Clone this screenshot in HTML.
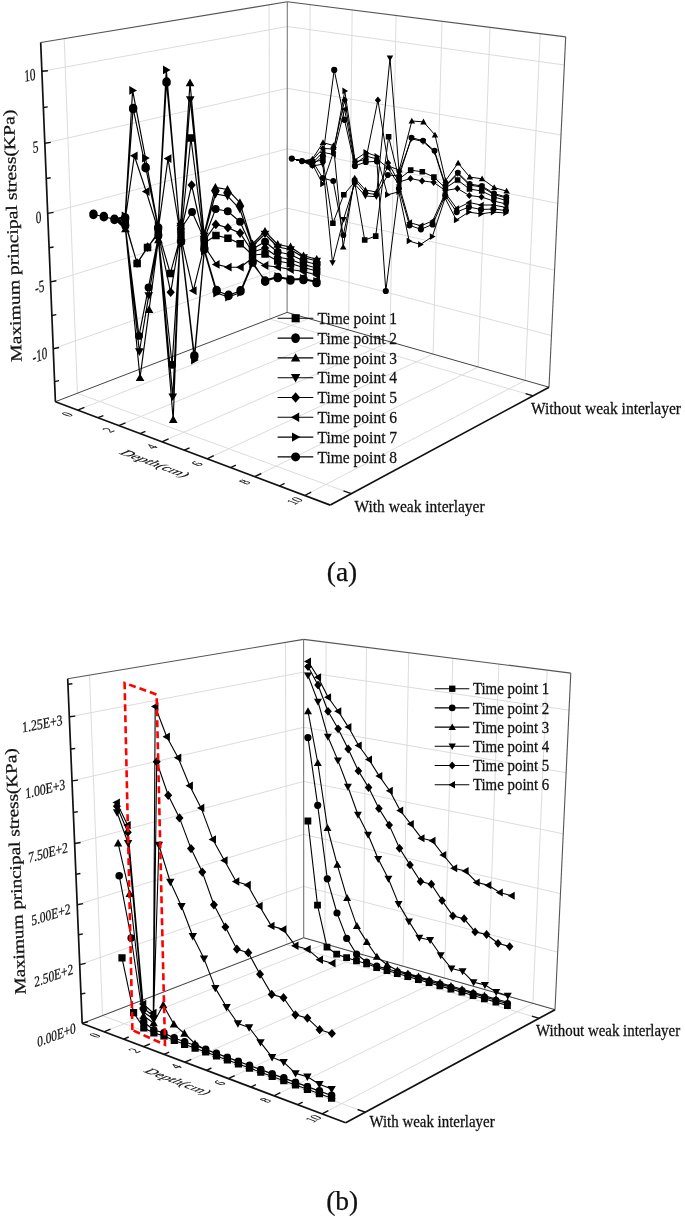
<!DOCTYPE html>
<html><head><meta charset="utf-8"><style>
html,body{margin:0;padding:0;background:#fff;}
svg{display:block;filter:blur(0.4px);}
text{font-family:"Liberation Serif",serif;fill:#111;stroke:#111;stroke-width:0.25px;}
</style></head><body>
<svg width="685" height="1218" viewBox="0 0 685 1218">
<rect width="685" height="1218" fill="#fff"/>
<line x1="41.9" y1="71.3" x2="287.3" y2="26.5" stroke="#d8d8d8" stroke-width="0.9" />
<line x1="287.3" y1="26.5" x2="564.4" y2="65.0" stroke="#d8d8d8" stroke-width="0.9" />
<line x1="44.8" y1="143.2" x2="287.2" y2="88.3" stroke="#d8d8d8" stroke-width="0.9" />
<line x1="287.2" y1="88.3" x2="561.0" y2="135.0" stroke="#d8d8d8" stroke-width="0.9" />
<line x1="47.7" y1="213.4" x2="287.2" y2="148.8" stroke="#d8d8d8" stroke-width="0.9" />
<line x1="287.2" y1="148.8" x2="557.8" y2="203.4" stroke="#d8d8d8" stroke-width="0.9" />
<line x1="50.5" y1="281.9" x2="287.1" y2="208.1" stroke="#d8d8d8" stroke-width="0.9" />
<line x1="287.1" y1="208.1" x2="554.6" y2="270.2" stroke="#d8d8d8" stroke-width="0.9" />
<line x1="53.3" y1="348.7" x2="287.1" y2="266.2" stroke="#d8d8d8" stroke-width="0.9" />
<line x1="287.1" y1="266.2" x2="551.5" y2="335.5" stroke="#d8d8d8" stroke-width="0.9" />
<line x1="77.4" y1="393.3" x2="64.2" y2="38.6" stroke="#d8d8d8" stroke-width="0.9" />
<line x1="77.4" y1="393.3" x2="351.4" y2="493.7" stroke="#d8d8d8" stroke-width="0.9" />
<line x1="269.9" y1="319.1" x2="269.1" y2="4.8" stroke="#d8d8d8" stroke-width="0.9" />
<line x1="269.9" y1="319.1" x2="533.1" y2="395.8" stroke="#d8d8d8" stroke-width="0.9" />
<line x1="308.7" y1="318.6" x2="310.1" y2="4.7" stroke="#d8d8d8" stroke-width="0.9" />
<line x1="77.7" y1="410.1" x2="308.7" y2="318.6" stroke="#d8d8d8" stroke-width="0.9" />
<line x1="348.5" y1="330.0" x2="352.2" y2="10.0" stroke="#d8d8d8" stroke-width="0.9" />
<line x1="118.8" y1="425.6" x2="348.5" y2="330.0" stroke="#d8d8d8" stroke-width="0.9" />
<line x1="389.9" y1="341.8" x2="396.1" y2="15.5" stroke="#d8d8d8" stroke-width="0.9" />
<line x1="161.9" y1="441.8" x2="389.9" y2="341.8" stroke="#d8d8d8" stroke-width="0.9" />
<line x1="433.1" y1="354.1" x2="442.0" y2="21.3" stroke="#d8d8d8" stroke-width="0.9" />
<line x1="207.1" y1="458.8" x2="433.1" y2="354.1" stroke="#d8d8d8" stroke-width="0.9" />
<line x1="478.1" y1="367.0" x2="490.0" y2="27.4" stroke="#d8d8d8" stroke-width="0.9" />
<line x1="254.7" y1="476.7" x2="478.1" y2="367.0" stroke="#d8d8d8" stroke-width="0.9" />
<line x1="525.2" y1="380.4" x2="540.2" y2="33.7" stroke="#d8d8d8" stroke-width="0.9" />
<line x1="304.7" y1="495.5" x2="525.2" y2="380.4" stroke="#d8d8d8" stroke-width="0.9" />
<line x1="40.7" y1="42.5" x2="287.3" y2="1.8" stroke="#555" stroke-width="1.1" />
<line x1="287.3" y1="1.8" x2="565.7" y2="36.9" stroke="#555" stroke-width="1.1" />
<line x1="287.1" y1="312.4" x2="287.3" y2="1.8" stroke="#777" stroke-width="1.1" />
<line x1="549.0" y1="387.2" x2="565.7" y2="36.9" stroke="#555" stroke-width="1.1" />
<line x1="55.4" y1="401.7" x2="287.1" y2="312.4" stroke="#444" stroke-width="1.0" />
<line x1="287.1" y1="312.4" x2="549.0" y2="387.2" stroke="#444" stroke-width="1.0" />
<line x1="55.4" y1="401.7" x2="40.7" y2="42.5" stroke="#111" stroke-width="1.7" />
<line x1="55.4" y1="401.7" x2="330.3" y2="505.1" stroke="#111" stroke-width="1.7" />
<line x1="330.3" y1="505.1" x2="549.0" y2="387.2" stroke="#111" stroke-width="1.7" />
<line x1="41.9" y1="71.3" x2="47.9" y2="70.7" stroke="#111" stroke-width="1.4" />
<line x1="44.8" y1="143.2" x2="50.8" y2="142.4" stroke="#111" stroke-width="1.4" />
<line x1="47.7" y1="213.4" x2="53.6" y2="212.4" stroke="#111" stroke-width="1.4" />
<line x1="50.5" y1="281.9" x2="56.4" y2="280.8" stroke="#111" stroke-width="1.4" />
<line x1="53.3" y1="348.7" x2="59.1" y2="347.5" stroke="#111" stroke-width="1.4" />
<line x1="43.4" y1="107.5" x2="47.8" y2="106.9" stroke="#111" stroke-width="1.4" />
<line x1="46.3" y1="178.5" x2="50.7" y2="177.8" stroke="#111" stroke-width="1.4" />
<line x1="49.1" y1="247.8" x2="53.6" y2="247.0" stroke="#111" stroke-width="1.4" />
<line x1="51.9" y1="315.5" x2="56.3" y2="314.6" stroke="#111" stroke-width="1.4" />
<line x1="54.6" y1="381.6" x2="59.0" y2="380.6" stroke="#111" stroke-width="1.4" />
<line x1="77.7" y1="410.1" x2="84.4" y2="407.4" stroke="#111" stroke-width="1.4" />
<line x1="118.8" y1="425.6" x2="125.5" y2="422.8" stroke="#111" stroke-width="1.4" />
<line x1="161.9" y1="441.8" x2="168.6" y2="438.9" stroke="#111" stroke-width="1.4" />
<line x1="207.1" y1="458.8" x2="213.8" y2="455.7" stroke="#111" stroke-width="1.4" />
<line x1="254.7" y1="476.7" x2="261.3" y2="473.5" stroke="#111" stroke-width="1.4" />
<line x1="304.7" y1="495.5" x2="311.2" y2="492.1" stroke="#111" stroke-width="1.4" />
<line x1="98.0" y1="417.7" x2="103.4" y2="415.6" stroke="#111" stroke-width="1.4" />
<line x1="140.1" y1="433.6" x2="145.4" y2="431.3" stroke="#111" stroke-width="1.4" />
<line x1="184.2" y1="450.2" x2="189.6" y2="447.8" stroke="#111" stroke-width="1.4" />
<line x1="230.6" y1="467.6" x2="235.9" y2="465.1" stroke="#111" stroke-width="1.4" />
<line x1="279.4" y1="486.0" x2="284.6" y2="483.3" stroke="#111" stroke-width="1.4" />
<line x1="351.4" y1="493.7" x2="343.5" y2="490.8" stroke="#111" stroke-width="1.4" />
<line x1="533.1" y1="395.8" x2="525.6" y2="393.6" stroke="#111" stroke-width="1.4" />
<line x1="69.3" y1="716.8" x2="303.6" y2="672.1" stroke="#d8d8d8" stroke-width="0.9" />
<line x1="303.6" y1="672.1" x2="569.1" y2="710.2" stroke="#d8d8d8" stroke-width="0.9" />
<line x1="72.0" y1="780.9" x2="303.6" y2="727.3" stroke="#d8d8d8" stroke-width="0.9" />
<line x1="303.6" y1="727.3" x2="566.2" y2="772.7" stroke="#d8d8d8" stroke-width="0.9" />
<line x1="74.7" y1="843.5" x2="303.7" y2="781.4" stroke="#d8d8d8" stroke-width="0.9" />
<line x1="303.7" y1="781.4" x2="563.3" y2="833.8" stroke="#d8d8d8" stroke-width="0.9" />
<line x1="77.2" y1="904.7" x2="303.7" y2="834.4" stroke="#d8d8d8" stroke-width="0.9" />
<line x1="303.7" y1="834.4" x2="560.5" y2="893.6" stroke="#d8d8d8" stroke-width="0.9" />
<line x1="79.7" y1="964.6" x2="303.7" y2="886.4" stroke="#d8d8d8" stroke-width="0.9" />
<line x1="303.7" y1="886.4" x2="557.7" y2="952.1" stroke="#d8d8d8" stroke-width="0.9" />
<line x1="82.2" y1="1023.1" x2="303.7" y2="937.5" stroke="#d8d8d8" stroke-width="0.9" />
<line x1="303.7" y1="937.5" x2="555.0" y2="1009.4" stroke="#d8d8d8" stroke-width="0.9" />
<line x1="102.5" y1="1015.7" x2="89.5" y2="675.1" stroke="#d8d8d8" stroke-width="0.9" />
<line x1="102.5" y1="1015.7" x2="365.2" y2="1112.2" stroke="#d8d8d8" stroke-width="0.9" />
<line x1="286.5" y1="944.5" x2="285.5" y2="642.5" stroke="#d8d8d8" stroke-width="0.9" />
<line x1="286.5" y1="944.5" x2="539.1" y2="1018.3" stroke="#d8d8d8" stroke-width="0.9" />
<line x1="324.9" y1="943.9" x2="326.1" y2="642.3" stroke="#d8d8d8" stroke-width="0.9" />
<line x1="104.0" y1="1031.8" x2="324.9" y2="943.9" stroke="#d8d8d8" stroke-width="0.9" />
<line x1="363.2" y1="954.9" x2="366.5" y2="647.4" stroke="#d8d8d8" stroke-width="0.9" />
<line x1="143.5" y1="1046.6" x2="363.2" y2="954.9" stroke="#d8d8d8" stroke-width="0.9" />
<line x1="403.0" y1="966.2" x2="408.7" y2="652.7" stroke="#d8d8d8" stroke-width="0.9" />
<line x1="184.9" y1="1062.2" x2="403.0" y2="966.2" stroke="#d8d8d8" stroke-width="0.9" />
<line x1="444.5" y1="978.1" x2="452.8" y2="658.2" stroke="#d8d8d8" stroke-width="0.9" />
<line x1="228.3" y1="1078.6" x2="444.5" y2="978.1" stroke="#d8d8d8" stroke-width="0.9" />
<line x1="487.8" y1="990.5" x2="498.9" y2="664.0" stroke="#d8d8d8" stroke-width="0.9" />
<line x1="274.0" y1="1095.8" x2="487.8" y2="990.5" stroke="#d8d8d8" stroke-width="0.9" />
<line x1="532.9" y1="1003.4" x2="547.2" y2="670.1" stroke="#d8d8d8" stroke-width="0.9" />
<line x1="322.1" y1="1113.9" x2="532.9" y2="1003.4" stroke="#d8d8d8" stroke-width="0.9" />
<line x1="67.7" y1="678.7" x2="303.6" y2="639.4" stroke="#555" stroke-width="1.1" />
<line x1="303.6" y1="639.4" x2="570.8" y2="673.1" stroke="#555" stroke-width="1.1" />
<line x1="303.7" y1="937.8" x2="303.6" y2="639.4" stroke="#777" stroke-width="1.1" />
<line x1="555.0" y1="1009.7" x2="570.8" y2="673.1" stroke="#555" stroke-width="1.1" />
<line x1="82.2" y1="1023.5" x2="303.7" y2="937.8" stroke="#444" stroke-width="1.0" />
<line x1="303.7" y1="937.8" x2="555.0" y2="1009.7" stroke="#444" stroke-width="1.0" />
<line x1="82.2" y1="1023.5" x2="67.7" y2="678.7" stroke="#111" stroke-width="1.7" />
<line x1="82.2" y1="1023.5" x2="345.7" y2="1122.8" stroke="#111" stroke-width="1.7" />
<line x1="345.7" y1="1122.8" x2="555.0" y2="1009.7" stroke="#111" stroke-width="1.7" />
<line x1="69.3" y1="716.8" x2="75.3" y2="716.1" stroke="#111" stroke-width="1.4" />
<line x1="72.0" y1="780.9" x2="78.0" y2="780.1" stroke="#111" stroke-width="1.4" />
<line x1="74.7" y1="843.5" x2="80.6" y2="842.5" stroke="#111" stroke-width="1.4" />
<line x1="77.2" y1="904.7" x2="83.1" y2="903.6" stroke="#111" stroke-width="1.4" />
<line x1="79.7" y1="964.6" x2="85.6" y2="963.4" stroke="#111" stroke-width="1.4" />
<line x1="82.2" y1="1023.1" x2="88.0" y2="1021.8" stroke="#111" stroke-width="1.4" />
<line x1="68.0" y1="684.2" x2="72.4" y2="683.8" stroke="#111" stroke-width="1.4" />
<line x1="70.7" y1="749.0" x2="75.2" y2="748.5" stroke="#111" stroke-width="1.4" />
<line x1="73.3" y1="812.4" x2="77.8" y2="811.7" stroke="#111" stroke-width="1.4" />
<line x1="75.9" y1="874.3" x2="80.4" y2="873.5" stroke="#111" stroke-width="1.4" />
<line x1="78.5" y1="934.8" x2="82.9" y2="933.9" stroke="#111" stroke-width="1.4" />
<line x1="81.0" y1="994.0" x2="85.4" y2="993.1" stroke="#111" stroke-width="1.4" />
<line x1="104.0" y1="1031.8" x2="110.5" y2="1029.2" stroke="#111" stroke-width="1.4" />
<line x1="143.5" y1="1046.6" x2="149.9" y2="1044.0" stroke="#111" stroke-width="1.4" />
<line x1="184.9" y1="1062.2" x2="191.3" y2="1059.4" stroke="#111" stroke-width="1.4" />
<line x1="228.3" y1="1078.6" x2="234.7" y2="1075.6" stroke="#111" stroke-width="1.4" />
<line x1="274.0" y1="1095.8" x2="280.3" y2="1092.7" stroke="#111" stroke-width="1.4" />
<line x1="322.1" y1="1113.9" x2="328.3" y2="1110.6" stroke="#111" stroke-width="1.4" />
<line x1="123.5" y1="1039.1" x2="128.7" y2="1037.0" stroke="#111" stroke-width="1.4" />
<line x1="164.0" y1="1054.3" x2="169.1" y2="1052.1" stroke="#111" stroke-width="1.4" />
<line x1="206.4" y1="1070.3" x2="211.4" y2="1068.0" stroke="#111" stroke-width="1.4" />
<line x1="250.9" y1="1087.1" x2="255.9" y2="1084.7" stroke="#111" stroke-width="1.4" />
<line x1="297.7" y1="1104.7" x2="302.7" y2="1102.2" stroke="#111" stroke-width="1.4" />
<line x1="365.2" y1="1112.2" x2="357.6" y2="1109.5" stroke="#111" stroke-width="1.4" />
<line x1="539.1" y1="1018.3" x2="531.9" y2="1016.2" stroke="#111" stroke-width="1.4" />
<text transform="matrix(-0.0383,-1.2295,0.9995,-0.0312,17.9,235.6)" font-size="16" text-anchor="middle" dy="0em" >Maximum principal stress(KPa)</text>
<text transform="matrix(-0.0486,-1.2010,0.9992,-0.0405,20.8,871.2)" font-size="16" text-anchor="middle" dy="0em" >Maximum principal stress(KPa)</text>
<text transform="matrix(0.6689,-0.1221,0.0410,0.9992,35.5,73.8)" font-size="17" text-anchor="end" dy="0.35em" >10</text>
<text transform="matrix(0.6632,-0.1502,0.0410,0.9992,38.5,146.0)" font-size="17" text-anchor="end" dy="0.35em" >5</text>
<text transform="matrix(0.6566,-0.1769,0.0410,0.9992,41.4,216.4)" font-size="17" text-anchor="end" dy="0.35em" >0</text>
<text transform="matrix(0.6492,-0.2023,0.0410,0.9992,44.3,285.1)" font-size="17" text-anchor="end" dy="0.35em" >-5</text>
<text transform="matrix(0.6413,-0.2262,0.0410,0.9992,47.1,352.2)" font-size="17" text-anchor="end" dy="0.35em" >-10</text>
<text transform="matrix(0.7858,-0.1499,0.0420,0.9991,62.5,719.6)" font-size="15" text-anchor="end" dy="0.35em" >1.25E+3</text>
<text transform="matrix(0.7794,-0.1804,0.0420,0.9991,65.2,784.0)" font-size="15" text-anchor="end" dy="0.35em" >1.00E+3</text>
<text transform="matrix(0.7721,-0.2095,0.0420,0.9991,67.9,846.8)" font-size="15" text-anchor="end" dy="0.35em" >7.50E+2</text>
<text transform="matrix(0.7640,-0.2372,0.0420,0.9991,70.5,908.3)" font-size="15" text-anchor="end" dy="0.35em" >5.00E+2</text>
<text transform="matrix(0.7553,-0.2636,0.0420,0.9991,73.1,968.4)" font-size="15" text-anchor="end" dy="0.35em" >2.50E+2</text>
<text transform="matrix(0.7462,-0.2885,0.0420,0.9991,75.7,1027.2)" font-size="15" text-anchor="end" dy="0.35em" >0.00E+0</text>
<text transform="matrix(0.6508,-0.2578,0.8424,0.3169,67.0,414.3)" font-size="15.5" text-anchor="middle" dy="0.35em" >0</text>
<text transform="matrix(0.6463,-0.2690,0.8424,0.3169,108.2,430.0)" font-size="15.5" text-anchor="middle" dy="0.35em" >2</text>
<text transform="matrix(0.6411,-0.2811,0.8424,0.3169,151.4,446.4)" font-size="15.5" text-anchor="middle" dy="0.35em" >4</text>
<text transform="matrix(0.6351,-0.2943,0.8424,0.3169,196.7,463.6)" font-size="15.5" text-anchor="middle" dy="0.35em" >6</text>
<text transform="matrix(0.6283,-0.3085,0.8424,0.3169,244.4,481.8)" font-size="15.5" text-anchor="middle" dy="0.35em" >8</text>
<text transform="matrix(0.6205,-0.3240,0.8424,0.3169,294.5,500.8)" font-size="15.5" text-anchor="middle" dy="0.35em" >10</text>
<text transform="matrix(0.6505,-0.2586,0.8422,0.3173,94.8,1035.4)" font-size="15.5" text-anchor="middle" dy="0.35em" >0</text>
<text transform="matrix(0.6459,-0.2698,0.8422,0.3173,134.3,1050.5)" font-size="15.5" text-anchor="middle" dy="0.35em" >2</text>
<text transform="matrix(0.6407,-0.2819,0.8422,0.3173,175.7,1066.2)" font-size="15.5" text-anchor="middle" dy="0.35em" >4</text>
<text transform="matrix(0.6348,-0.2951,0.8422,0.3173,219.3,1082.8)" font-size="15.5" text-anchor="middle" dy="0.35em" >6</text>
<text transform="matrix(0.6279,-0.3093,0.8422,0.3173,265.0,1100.2)" font-size="15.5" text-anchor="middle" dy="0.35em" >8</text>
<text transform="matrix(0.6201,-0.3248,0.8422,0.3173,313.2,1118.5)" font-size="15.5" text-anchor="middle" dy="0.35em" >10</text>
<text transform="matrix(0.9079,0.3416,-0.8397,0.3238,155.5,463.5)" font-size="16.5" text-anchor="middle" dy="0.35em" >Depth(cm)</text>
<text transform="matrix(0.9077,0.3420,-0.8394,0.3247,178.5,1081.5)" font-size="15.8" text-anchor="middle" dy="0.35em" >Depth(cm)</text>
<text transform="translate(531.0,414.1) scale(1,1.08)" font-size="15.5" text-anchor="start" >Without weak interlayer</text>
<text transform="translate(354.5,511.5) scale(1,1.08)" font-size="15.5" text-anchor="start" >With weak interlayer</text>
<text transform="translate(536.0,1035.5) scale(1,1.08)" font-size="14.9" text-anchor="start" >Without weak interlayer</text>
<text transform="translate(369.5,1126.8) scale(1,1.08)" font-size="14.9" text-anchor="start" >With weak interlayer</text>
<text x="342" y="581.3" font-size="27.5" text-anchor="middle">(a)</text>
<text x="342.2" y="1209.9" font-size="27.5" text-anchor="middle">(b)</text>
<path d="M291.8,158.6 L302.0,161.1 L312.4,162.0 L322.8,160.0 L332.9,223.3 L343.7,194.8 L354.7,182.0 L364.7,240.0 L375.7,236.1 L388.6,136.7 L399.1,179.0 L410.7,170.1 L422.3,171.8 L433.9,177.1 L445.4,188.0 L457.6,180.0 L469.5,189.0 L481.7,191.0 L493.9,197.0 L506.3,200.5 M291.8,158.6 L302.0,161.1 L312.4,161.0 L322.7,178.0 L333.2,181.0 L343.3,235.1 L354.7,180.0 L365.4,193.0 L376.4,194.5 L387.9,175.0 L399.2,176.0 L411.4,137.7 L423.0,140.6 L434.5,150.8 L445.5,185.5 L457.8,172.7 L469.6,184.0 L481.8,186.0 L494.0,193.5 L506.4,197.0 M291.8,158.6 L302.0,161.1 L312.4,159.0 L323.0,142.6 L333.5,145.5 L343.2,247.0 L354.7,178.0 L365.4,190.0 L376.4,192.0 L388.0,166.0 L399.3,170.0 L411.8,121.0 L423.5,121.9 L435.0,135.0 L445.6,180.6 L458.1,163.1 L469.8,177.1 L482.1,178.8 L494.2,187.6 L506.6,191.1 M291.8,158.6 L302.0,161.1 L312.4,166.0 L322.8,164.2 L332.5,262.7 L343.5,219.4 L354.6,184.0 L365.4,196.0 L376.4,196.7 L390.0,57.9 L399.2,173.0 L411.4,138.7 L423.0,141.6 L434.5,151.8 L445.4,186.5 L457.8,173.7 L469.6,185.0 L481.8,187.0 L493.9,194.5 L506.4,198.0 M291.8,158.6 L302.0,161.1 L312.4,160.0 L322.9,148.5 L333.5,149.0 L344.7,100.1 L354.9,162.0 L365.9,159.3 L377.9,100.2 L388.1,163.0 L399.0,182.0 L410.5,178.5 L422.1,180.9 L433.7,182.3 L445.3,190.5 L457.4,188.5 L469.3,195.5 L481.5,197.0 L493.7,201.0 L506.1,204.0 M291.8,158.6 L302.0,161.1 L312.4,163.0 L322.9,152.4 L333.5,154.4 L344.6,109.3 L354.9,164.0 L365.9,156.0 L377.0,159.0 L388.0,168.0 L399.0,185.0 L409.6,222.6 L421.0,225.8 L432.7,220.9 L445.3,193.0 L456.8,208.6 L469.0,202.5 L481.2,205.0 L493.6,205.0 L506.0,207.5 M291.8,158.6 L302.0,161.1 L312.4,164.0 L322.7,184.0 L333.5,152.0 L344.8,90.9 L354.9,160.0 L366.0,152.4 L377.0,156.4 L387.5,194.8 L398.8,191.8 L409.2,241.0 L420.5,244.5 L432.3,236.6 L445.1,198.1 L456.4,220.0 L468.7,212.1 L480.9,213.9 L493.3,212.1 L505.8,213.0 M291.8,158.6 L302.0,161.1 L312.4,165.0 L322.9,156.0 L334.2,69.9 L344.5,119.8 L354.9,166.0 L365.8,162.0 L376.9,161.3 L385.8,291.0 L398.9,188.5 L409.5,225.3 L420.9,229.3 L432.6,224.4 L445.2,195.5 L456.7,212.1 L468.9,207.0 L481.0,209.5 L493.4,209.0 L505.9,210.5" fill="none" stroke="#000" stroke-width="1.0" stroke-linejoin="round"/>
<path d="M309.6,159.2h5.6v5.6h-5.6zM320.1,157.2h5.6v5.6h-5.6zM330.1,220.5h5.6v5.6h-5.6zM341.0,192.0h5.6v5.6h-5.6zM351.9,179.2h5.6v5.6h-5.6zM361.9,237.2h5.6v5.6h-5.6zM372.9,233.3h5.6v5.6h-5.6zM385.8,133.9h5.6v5.6h-5.6zM396.3,176.2h5.6v5.6h-5.6zM407.9,167.3h5.6v5.6h-5.6zM419.5,169.0h5.6v5.6h-5.6zM431.1,174.3h5.6v5.6h-5.6zM442.6,185.2h5.6v5.6h-5.6zM454.8,177.2h5.6v5.6h-5.6zM466.7,186.2h5.6v5.6h-5.6zM478.9,188.2h5.6v5.6h-5.6zM491.1,194.2h5.6v5.6h-5.6zM503.5,197.7h5.6v5.6h-5.6zM309.4,161.0a2.9,2.9 0 1,1 5.9,0a2.9,2.9 0 1,1 -5.9,0zM319.8,178.0a2.9,2.9 0 1,1 5.9,0a2.9,2.9 0 1,1 -5.9,0zM330.3,181.0a2.9,2.9 0 1,1 5.9,0a2.9,2.9 0 1,1 -5.9,0zM340.4,235.1a2.9,2.9 0 1,1 5.9,0a2.9,2.9 0 1,1 -5.9,0zM351.7,180.0a2.9,2.9 0 1,1 5.9,0a2.9,2.9 0 1,1 -5.9,0zM362.5,193.0a2.9,2.9 0 1,1 5.9,0a2.9,2.9 0 1,1 -5.9,0zM373.4,194.5a2.9,2.9 0 1,1 5.9,0a2.9,2.9 0 1,1 -5.9,0zM384.9,175.0a2.9,2.9 0 1,1 5.9,0a2.9,2.9 0 1,1 -5.9,0zM396.2,176.0a2.9,2.9 0 1,1 5.9,0a2.9,2.9 0 1,1 -5.9,0zM408.5,137.7a2.9,2.9 0 1,1 5.9,0a2.9,2.9 0 1,1 -5.9,0zM420.1,140.6a2.9,2.9 0 1,1 5.9,0a2.9,2.9 0 1,1 -5.9,0zM431.6,150.8a2.9,2.9 0 1,1 5.9,0a2.9,2.9 0 1,1 -5.9,0zM442.5,185.5a2.9,2.9 0 1,1 5.9,0a2.9,2.9 0 1,1 -5.9,0zM454.9,172.7a2.9,2.9 0 1,1 5.9,0a2.9,2.9 0 1,1 -5.9,0zM466.7,184.0a2.9,2.9 0 1,1 5.9,0a2.9,2.9 0 1,1 -5.9,0zM478.9,186.0a2.9,2.9 0 1,1 5.9,0a2.9,2.9 0 1,1 -5.9,0zM491.0,193.5a2.9,2.9 0 1,1 5.9,0a2.9,2.9 0 1,1 -5.9,0zM503.5,197.0a2.9,2.9 0 1,1 5.9,0a2.9,2.9 0 1,1 -5.9,0zM312.4,155.7L315.6,161.5L309.1,161.5zM323.0,139.3L326.2,145.1L319.7,145.1zM333.5,142.2L336.8,148.0L330.3,148.0zM343.2,243.7L346.5,249.5L339.9,249.5zM354.7,174.7L358.0,180.5L351.5,180.5zM365.4,186.7L368.7,192.5L362.2,192.5zM376.4,188.7L379.7,194.5L373.2,194.5zM388.0,162.7L391.3,168.5L384.8,168.5zM399.3,166.7L402.5,172.5L396.0,172.5zM411.8,117.7L415.1,123.5L408.6,123.5zM423.5,118.6L426.7,124.4L420.2,124.4zM435.0,131.7L438.2,137.5L431.7,137.5zM445.6,177.3L448.9,183.1L442.4,183.1zM458.1,159.8L461.4,165.6L454.9,165.6zM469.8,173.8L473.1,179.6L466.6,179.6zM482.1,175.5L485.3,181.3L478.8,181.3zM494.2,184.3L497.5,190.1L490.9,190.1zM506.6,187.8L509.9,193.6L503.4,193.6zM309.1,163.5L315.6,163.5L312.4,169.3zM319.6,161.7L326.1,161.7L322.8,167.5zM329.3,260.2L335.8,260.2L332.5,266.0zM340.2,216.9L346.7,216.9L343.5,222.7zM351.4,181.5L357.9,181.5L354.6,187.3zM362.1,193.5L368.6,193.5L365.4,199.3zM373.1,194.2L379.6,194.2L376.4,200.0zM386.7,55.4L393.2,55.4L390.0,61.2zM396.0,170.5L402.5,170.5L399.2,176.3zM408.2,136.2L414.7,136.2L411.4,142.0zM419.7,139.1L426.3,139.1L423.0,144.9zM431.3,149.3L437.8,149.3L434.5,155.1zM442.2,184.0L448.7,184.0L445.4,189.8zM454.6,171.2L461.1,171.2L457.8,177.0zM466.3,182.5L472.8,182.5L469.6,188.3zM478.5,184.5L485.1,184.5L481.8,190.3zM490.7,192.0L497.2,192.0L493.9,197.8zM503.1,195.5L509.6,195.5L506.4,201.3zM312.4,156.4L315.5,160.0L312.4,163.6L309.3,160.0zM322.9,144.9L326.0,148.5L322.9,152.1L319.8,148.5zM333.5,145.4L336.6,149.0L333.5,152.6L330.4,149.0zM344.7,96.5L347.8,100.1L344.7,103.7L341.6,100.1zM354.9,158.4L358.0,162.0L354.9,165.6L351.8,162.0zM365.9,155.7L369.0,159.3L365.9,162.9L362.8,159.3zM377.9,96.6L381.0,100.2L377.9,103.8L374.8,100.2zM388.1,159.4L391.2,163.0L388.1,166.6L385.0,163.0zM399.0,178.4L402.1,182.0L399.0,185.6L395.9,182.0zM410.5,174.9L413.6,178.5L410.5,182.1L407.4,178.5zM422.1,177.3L425.2,180.9L422.1,184.5L419.0,180.9zM433.7,178.7L436.8,182.3L433.7,185.9L430.6,182.3zM445.3,186.9L448.4,190.5L445.3,194.1L442.2,190.5zM457.4,184.9L460.5,188.5L457.4,192.1L454.3,188.5zM469.3,191.9L472.4,195.5L469.3,199.1L466.2,195.5zM481.5,193.4L484.6,197.0L481.5,200.6L478.4,197.0zM493.7,197.4L496.8,201.0L493.7,204.6L490.6,201.0zM506.1,200.4L509.2,204.0L506.1,207.6L503.0,204.0zM309.1,163.0L314.8,159.7L314.8,166.3zM319.6,152.4L325.4,149.1L325.4,155.7zM330.2,154.4L335.9,151.1L335.9,157.7zM341.4,109.3L347.1,106.0L347.1,112.6zM351.6,164.0L357.4,160.7L357.4,167.3zM362.7,156.0L368.4,152.7L368.4,159.3zM373.7,159.0L379.4,155.7L379.4,162.3zM384.7,168.0L390.5,164.7L390.5,171.3zM395.7,185.0L401.5,181.7L401.5,188.3zM406.3,222.6L412.1,219.3L412.1,225.9zM417.7,225.8L423.5,222.5L423.5,229.1zM429.5,220.9L435.2,217.6L435.2,224.2zM442.0,193.0L447.7,189.7L447.7,196.3zM453.5,208.6L459.2,205.3L459.2,211.9zM465.8,202.5L471.5,199.2L471.5,205.8zM477.9,205.0L483.7,201.7L483.7,208.3zM490.3,205.0L496.0,201.7L496.0,208.3zM502.8,207.5L508.5,204.2L508.5,210.8zM309.9,160.7L315.6,164.0L309.9,167.3zM320.2,180.7L325.9,184.0L320.2,187.3zM331.0,148.7L336.7,152.0L331.0,155.3zM342.4,87.6L348.1,90.9L342.4,94.2zM352.5,156.7L358.2,160.0L352.5,163.3zM363.5,149.1L369.2,152.4L363.5,155.7zM374.5,153.1L380.3,156.4L374.5,159.7zM385.0,191.5L390.8,194.8L385.0,198.1zM396.4,188.5L402.1,191.8L396.4,195.1zM406.7,237.7L412.4,241.0L406.7,244.3zM418.1,241.2L423.8,244.5L418.1,247.8zM429.8,233.3L435.6,236.6L429.8,239.9zM442.6,194.8L448.4,198.1L442.6,201.4zM453.9,216.7L459.7,220.0L453.9,223.3zM466.2,208.8L472.0,212.1L466.2,215.4zM478.4,210.6L484.1,213.9L478.4,217.2zM490.8,208.8L496.6,212.1L490.8,215.4zM503.3,209.7L509.0,213.0L503.3,216.3zM288.7,158.6a3.1,3.1 0 1,1 6.2,0a3.1,3.1 0 1,1 -6.2,0zM298.9,161.1a3.1,3.1 0 1,1 6.2,0a3.1,3.1 0 1,1 -6.2,0zM309.3,165.0a3.1,3.1 0 1,1 6.2,0a3.1,3.1 0 1,1 -6.2,0zM319.8,156.0a3.1,3.1 0 1,1 6.2,0a3.1,3.1 0 1,1 -6.2,0zM331.1,69.9a3.1,3.1 0 1,1 6.2,0a3.1,3.1 0 1,1 -6.2,0zM341.4,119.8a3.1,3.1 0 1,1 6.2,0a3.1,3.1 0 1,1 -6.2,0zM351.8,166.0a3.1,3.1 0 1,1 6.2,0a3.1,3.1 0 1,1 -6.2,0zM362.7,162.0a3.1,3.1 0 1,1 6.2,0a3.1,3.1 0 1,1 -6.2,0zM373.8,161.3a3.1,3.1 0 1,1 6.2,0a3.1,3.1 0 1,1 -6.2,0zM382.7,291.0a3.1,3.1 0 1,1 6.2,0a3.1,3.1 0 1,1 -6.2,0zM395.8,188.5a3.1,3.1 0 1,1 6.2,0a3.1,3.1 0 1,1 -6.2,0zM406.4,225.3a3.1,3.1 0 1,1 6.2,0a3.1,3.1 0 1,1 -6.2,0zM417.8,229.3a3.1,3.1 0 1,1 6.2,0a3.1,3.1 0 1,1 -6.2,0zM429.5,224.4a3.1,3.1 0 1,1 6.2,0a3.1,3.1 0 1,1 -6.2,0zM442.1,195.5a3.1,3.1 0 1,1 6.2,0a3.1,3.1 0 1,1 -6.2,0zM453.6,212.1a3.1,3.1 0 1,1 6.2,0a3.1,3.1 0 1,1 -6.2,0zM465.8,207.0a3.1,3.1 0 1,1 6.2,0a3.1,3.1 0 1,1 -6.2,0zM477.9,209.5a3.1,3.1 0 1,1 6.2,0a3.1,3.1 0 1,1 -6.2,0zM490.3,209.0a3.1,3.1 0 1,1 6.2,0a3.1,3.1 0 1,1 -6.2,0zM502.8,210.5a3.1,3.1 0 1,1 6.2,0a3.1,3.1 0 1,1 -6.2,0z" fill="#000"/>
<path d="M93.4,214.3 L103.9,216.7 L114.5,219.3 L125.2,222.0 L137.1,263.5 L147.6,247.5 L158.3,232.0 L170.3,273.4 L180.9,235.0 L190.9,138.0 L204.2,243.0 L216.0,235.4 L228.0,238.3 L240.2,243.6 L252.6,255.0 L265.0,254.0 L277.7,261.0 L290.5,263.5 L303.5,267.5 L316.7,271.0 M93.4,214.3 L103.9,216.7 L114.5,219.3 L125.3,226.0 L139.0,335.9 L148.5,287.4 L158.4,236.0 L172.1,364.7 L180.8,229.0 L192.1,212.0 L204.2,239.0 L215.6,209.0 L227.7,211.2 L240.0,221.7 L252.5,249.0 L265.0,241.8 L277.7,252.0 L290.5,254.5 L303.5,261.0 L316.7,264.5 M93.4,214.3 L103.9,216.7 L114.5,219.3 L125.4,229.0 L140.0,377.8 L149.1,309.6 L158.4,240.0 L173.2,419.7 L180.7,223.0 L190.0,83.0 L204.1,234.0 L215.4,187.4 L227.5,189.5 L239.9,202.6 L252.5,244.0 L265.0,231.3 L277.7,244.5 L290.5,247.0 L303.5,255.8 L316.7,259.3 M93.4,214.3 L103.9,216.7 L114.5,219.3 L125.4,228.0 L139.4,351.5 L148.7,295.6 L158.4,238.0 L172.8,396.7 L180.8,226.0 L190.3,99.5 L204.1,236.0 L215.5,194.0 L227.6,196.1 L239.9,209.2 L252.5,246.0 L265.0,234.0 L277.7,247.0 L290.5,249.5 L303.5,257.5 L316.7,261.0 M93.4,214.3 L103.9,216.7 L114.5,219.3 L125.3,224.0 L137.1,263.1 L147.6,247.1 L158.3,234.0 L170.7,292.3 L180.9,232.0 L191.6,185.0 L204.2,241.0 L215.8,224.4 L227.9,227.8 L240.1,233.1 L252.6,252.0 L265.0,248.0 L277.7,257.0 L290.5,259.5 L303.5,264.5 L316.7,268.0 M93.4,214.3 L103.9,216.7 L114.5,219.3 L125.2,220.0 L134.3,155.8 L146.2,191.5 L158.2,230.0 L168.0,158.6 L181.0,238.0 L193.3,290.7 L204.3,246.0 L216.3,264.4 L228.3,267.2 L240.4,267.2 L252.6,258.0 L265.1,265.5 L277.7,267.0 L290.5,269.5 L303.5,271.5 L316.6,275.0 M93.4,214.3 L103.9,216.7 L114.5,219.3 L125.1,216.0 L132.6,90.4 L145.5,158.1 L158.1,226.0 L166.3,69.9 L181.1,244.0 L194.4,360.0 L204.3,251.0 L216.6,293.0 L228.5,297.0 L240.6,292.5 L252.6,264.0 L265.1,280.0 L277.7,276.5 L290.5,279.0 L303.5,278.5 L316.6,281.5 M93.4,214.3 L103.9,216.7 L114.5,219.3 L125.1,218.0 L133.1,108.5 L145.7,167.7 L158.2,228.0 L166.5,82.2 L181.0,241.0 L194.4,356.0 L204.3,249.0 L216.6,290.7 L228.5,295.3 L240.5,290.9 L252.6,262.0 L265.1,281.2 L277.7,277.5 L290.5,280.0 L303.5,279.5 L316.6,282.5" fill="none" stroke="#000" stroke-width="1.15" stroke-linejoin="round"/>
<path d="M121.5,218.3h7.5v7.5h-7.5zM133.4,259.8h7.5v7.5h-7.5zM143.8,243.8h7.5v7.5h-7.5zM154.5,228.3h7.5v7.5h-7.5zM166.6,269.7h7.5v7.5h-7.5zM177.2,231.3h7.5v7.5h-7.5zM187.2,134.3h7.5v7.5h-7.5zM200.5,239.3h7.5v7.5h-7.5zM212.2,231.7h7.5v7.5h-7.5zM224.2,234.6h7.5v7.5h-7.5zM236.4,239.9h7.5v7.5h-7.5zM248.8,251.3h7.5v7.5h-7.5zM261.3,250.3h7.5v7.5h-7.5zM274.0,257.3h7.5v7.5h-7.5zM286.8,259.8h7.5v7.5h-7.5zM299.8,263.8h7.5v7.5h-7.5zM312.9,267.3h7.5v7.5h-7.5zM121.4,226.0a3.9,3.9 0 1,1 7.9,0a3.9,3.9 0 1,1 -7.9,0zM135.0,335.9a3.9,3.9 0 1,1 7.9,0a3.9,3.9 0 1,1 -7.9,0zM144.6,287.4a3.9,3.9 0 1,1 7.9,0a3.9,3.9 0 1,1 -7.9,0zM154.4,236.0a3.9,3.9 0 1,1 7.9,0a3.9,3.9 0 1,1 -7.9,0zM168.2,364.7a3.9,3.9 0 1,1 7.9,0a3.9,3.9 0 1,1 -7.9,0zM176.9,229.0a3.9,3.9 0 1,1 7.9,0a3.9,3.9 0 1,1 -7.9,0zM188.1,212.0a3.9,3.9 0 1,1 7.9,0a3.9,3.9 0 1,1 -7.9,0zM200.2,239.0a3.9,3.9 0 1,1 7.9,0a3.9,3.9 0 1,1 -7.9,0zM211.7,209.0a3.9,3.9 0 1,1 7.9,0a3.9,3.9 0 1,1 -7.9,0zM223.8,211.2a3.9,3.9 0 1,1 7.9,0a3.9,3.9 0 1,1 -7.9,0zM236.1,221.7a3.9,3.9 0 1,1 7.9,0a3.9,3.9 0 1,1 -7.9,0zM248.6,249.0a3.9,3.9 0 1,1 7.9,0a3.9,3.9 0 1,1 -7.9,0zM261.1,241.8a3.9,3.9 0 1,1 7.9,0a3.9,3.9 0 1,1 -7.9,0zM273.7,252.0a3.9,3.9 0 1,1 7.9,0a3.9,3.9 0 1,1 -7.9,0zM286.6,254.5a3.9,3.9 0 1,1 7.9,0a3.9,3.9 0 1,1 -7.9,0zM299.6,261.0a3.9,3.9 0 1,1 7.9,0a3.9,3.9 0 1,1 -7.9,0zM312.8,264.5a3.9,3.9 0 1,1 7.9,0a3.9,3.9 0 1,1 -7.9,0zM125.4,224.6L129.8,232.3L121.1,232.3zM140.0,373.4L144.4,381.1L135.7,381.1zM149.1,305.2L153.4,312.9L144.7,312.9zM158.4,235.6L162.8,243.3L154.1,243.3zM173.2,415.3L177.6,423.0L168.9,423.0zM180.7,218.6L185.1,226.3L176.3,226.3zM190.0,78.6L194.4,86.3L185.7,86.3zM204.1,229.6L208.5,237.3L199.7,237.3zM215.4,183.0L219.7,190.7L211.0,190.7zM227.5,185.1L231.9,192.8L223.2,192.8zM239.9,198.2L244.2,205.9L235.5,205.9zM252.5,239.6L256.9,247.3L248.2,247.3zM265.0,226.9L269.3,234.6L260.6,234.6zM277.7,240.1L282.0,247.8L273.3,247.8zM290.5,242.6L294.9,250.3L286.2,250.3zM303.5,251.4L307.9,259.1L299.2,259.1zM316.7,254.9L321.1,262.6L312.4,262.6zM121.0,224.7L129.8,224.7L125.4,232.4zM135.0,348.2L143.7,348.2L139.4,355.9zM144.4,292.3L153.1,292.3L148.7,300.0zM154.0,234.7L162.8,234.7L158.4,242.4zM168.4,393.4L177.1,393.4L172.8,401.1zM176.4,222.7L185.1,222.7L180.8,230.4zM185.9,96.2L194.6,96.2L190.3,103.9zM199.8,232.7L208.5,232.7L204.1,240.4zM211.1,190.7L219.8,190.7L215.5,198.4zM223.2,192.8L231.9,192.8L227.6,200.5zM235.6,205.9L244.3,205.9L239.9,213.6zM248.2,242.7L256.9,242.7L252.5,250.4zM260.6,230.7L269.3,230.7L265.0,238.4zM273.3,243.7L282.0,243.7L277.7,251.4zM286.2,246.2L294.9,246.2L290.5,253.9zM299.2,254.2L307.9,254.2L303.5,261.9zM312.4,257.7L321.1,257.7L316.7,265.4zM125.3,219.2L129.4,224.0L125.3,228.8L121.1,224.0zM137.1,258.3L141.2,263.1L137.1,267.9L132.9,263.1zM147.6,242.3L151.7,247.1L147.6,251.9L143.4,247.1zM158.3,229.2L162.5,234.0L158.3,238.8L154.2,234.0zM170.7,287.5L174.8,292.3L170.7,297.1L166.5,292.3zM180.9,227.2L185.0,232.0L180.9,236.8L176.7,232.0zM191.6,180.2L195.8,185.0L191.6,189.8L187.5,185.0zM204.2,236.2L208.3,241.0L204.2,245.8L200.0,241.0zM215.8,219.6L220.0,224.4L215.8,229.2L211.7,224.4zM227.9,223.0L232.0,227.8L227.9,232.6L223.7,227.8zM240.1,228.3L244.3,233.1L240.1,237.9L236.0,233.1zM252.6,247.2L256.7,252.0L252.6,256.8L248.4,252.0zM265.0,243.2L269.2,248.0L265.0,252.8L260.9,248.0zM277.7,252.2L281.8,257.0L277.7,261.8L273.5,257.0zM290.5,254.7L294.7,259.5L290.5,264.3L286.4,259.5zM303.5,259.7L307.7,264.5L303.5,269.3L299.4,264.5zM316.7,263.2L320.8,268.0L316.7,272.8L312.5,268.0zM120.8,220.0L128.5,215.6L128.5,224.4zM130.0,155.8L137.6,151.4L137.6,160.2zM141.9,191.5L149.6,187.1L149.6,195.9zM153.9,230.0L161.6,225.6L161.6,234.4zM163.7,158.6L171.4,154.2L171.4,163.0zM176.6,238.0L184.3,233.6L184.3,242.4zM189.0,290.7L196.6,286.3L196.6,295.1zM199.9,246.0L207.6,241.6L207.6,250.4zM211.9,264.4L219.6,260.0L219.6,268.8zM223.9,267.2L231.6,262.8L231.6,271.6zM236.0,267.2L243.7,262.8L243.7,271.6zM248.2,258.0L255.9,253.6L255.9,262.4zM260.7,265.5L268.4,261.1L268.4,269.9zM273.3,267.0L281.0,262.6L281.0,271.4zM286.2,269.5L293.8,265.1L293.8,273.9zM299.1,271.5L306.8,267.1L306.8,275.9zM312.3,275.0L320.0,270.6L320.0,279.4zM121.7,211.6L129.4,216.0L121.7,220.4zM129.3,86.0L137.0,90.4L129.3,94.8zM142.1,153.7L149.8,158.1L142.1,162.5zM154.8,221.6L162.5,226.0L154.8,230.4zM163.0,65.5L170.6,69.9L163.0,74.3zM177.8,239.6L185.4,244.0L177.8,248.4zM191.1,355.6L198.8,360.0L191.1,364.4zM201.0,246.6L208.7,251.0L201.0,255.4zM213.3,288.6L221.0,293.0L213.3,297.4zM225.2,292.6L232.9,297.0L225.2,301.4zM237.2,288.1L244.9,292.5L237.2,296.9zM249.3,259.6L257.0,264.0L249.3,268.4zM261.8,275.6L269.5,280.0L261.8,284.4zM274.4,272.1L282.1,276.5L274.4,280.9zM287.2,274.6L294.9,279.0L287.2,283.4zM300.1,274.1L307.8,278.5L300.1,282.9zM313.3,277.1L321.0,281.5L313.3,285.9zM89.3,214.3a4.2,4.2 0 1,1 8.3,0a4.2,4.2 0 1,1 -8.3,0zM99.7,216.7a4.2,4.2 0 1,1 8.3,0a4.2,4.2 0 1,1 -8.3,0zM110.3,219.3a4.2,4.2 0 1,1 8.3,0a4.2,4.2 0 1,1 -8.3,0zM121.0,218.0a4.2,4.2 0 1,1 8.3,0a4.2,4.2 0 1,1 -8.3,0zM129.0,108.5a4.2,4.2 0 1,1 8.3,0a4.2,4.2 0 1,1 -8.3,0zM141.5,167.7a4.2,4.2 0 1,1 8.3,0a4.2,4.2 0 1,1 -8.3,0zM154.0,228.0a4.2,4.2 0 1,1 8.3,0a4.2,4.2 0 1,1 -8.3,0zM162.4,82.2a4.2,4.2 0 1,1 8.3,0a4.2,4.2 0 1,1 -8.3,0zM176.9,241.0a4.2,4.2 0 1,1 8.3,0a4.2,4.2 0 1,1 -8.3,0zM190.2,356.0a4.2,4.2 0 1,1 8.3,0a4.2,4.2 0 1,1 -8.3,0zM200.2,249.0a4.2,4.2 0 1,1 8.3,0a4.2,4.2 0 1,1 -8.3,0zM212.5,290.7a4.2,4.2 0 1,1 8.3,0a4.2,4.2 0 1,1 -8.3,0zM224.4,295.3a4.2,4.2 0 1,1 8.3,0a4.2,4.2 0 1,1 -8.3,0zM236.4,290.9a4.2,4.2 0 1,1 8.3,0a4.2,4.2 0 1,1 -8.3,0zM248.5,262.0a4.2,4.2 0 1,1 8.3,0a4.2,4.2 0 1,1 -8.3,0zM261.0,281.2a4.2,4.2 0 1,1 8.3,0a4.2,4.2 0 1,1 -8.3,0zM273.6,277.5a4.2,4.2 0 1,1 8.3,0a4.2,4.2 0 1,1 -8.3,0zM286.3,280.0a4.2,4.2 0 1,1 8.3,0a4.2,4.2 0 1,1 -8.3,0zM299.3,279.5a4.2,4.2 0 1,1 8.3,0a4.2,4.2 0 1,1 -8.3,0zM312.4,282.5a4.2,4.2 0 1,1 8.3,0a4.2,4.2 0 1,1 -8.3,0z" fill="#000"/>
<path d="M307.9,821.0 L317.5,905.1 L327.0,947.2 L336.8,954.2 L346.6,957.7 L356.5,960.8 L366.6,963.8 L376.7,967.5 L387.0,970.5 L397.4,973.5 L407.8,976.5 L418.4,979.6 L429.1,982.7 L440.0,985.9 L450.9,989.1 L462.0,992.3 L473.1,995.5 L484.4,998.8 L495.9,1002.1 L507.4,1005.5 M308.0,737.6 L317.7,805.3 L327.3,878.8 L337.0,913.0 L346.8,938.4 L356.6,954.2 L366.6,962.0 L376.8,966.1 L387.0,968.8 L397.4,971.8 L407.9,974.8 L418.5,977.9 L429.2,981.0 L440.0,984.1 L450.9,987.3 L462.0,990.5 L473.2,993.7 L484.5,997.0 L495.9,1000.3 L507.5,1003.7 M308.0,711.3 L317.8,763.0 L327.5,828.0 L337.3,864.8 L347.1,898.1 L356.9,926.1 L366.8,941.9 L376.9,956.8 L387.1,964.7 L397.4,970.5 L407.9,973.5 L418.5,976.6 L429.2,979.7 L440.0,982.8 L451.0,986.0 L462.0,989.2 L473.2,992.4 L484.5,995.7 L496.0,999.0 L507.6,1002.3 M308.0,675.4 L318.0,701.7 L327.9,736.7 L337.9,760.4 L347.9,786.7 L358.0,814.7 L368.1,834.8 L378.2,859.0 L388.4,878.7 L398.6,903.9 L408.9,921.4 L419.3,937.8 L430.1,940.0 L440.7,955.3 L451.5,968.5 L462.6,971.3 L473.6,982.3 L484.9,984.9 L496.2,992.0 L507.8,995.8 M308.0,666.6 L318.0,685.0 L328.0,711.3 L338.1,728.8 L348.2,749.0 L358.4,770.9 L368.6,787.5 L378.9,808.5 L389.2,825.1 L399.5,848.3 L410.0,864.9 L420.5,881.5 L431.4,884.2 L442.1,900.6 L452.9,915.9 L464.1,918.7 L475.1,931.9 L486.6,934.5 L498.0,943.3 L509.7,946.6 M308.0,661.4 L318.0,677.2 L328.1,697.3 L338.2,711.3 L348.4,727.1 L358.6,745.5 L368.9,759.5 L379.3,776.1 L389.7,790.7 L400.2,810.5 L410.8,824.1 L421.4,838.2 L432.4,840.8 L443.3,855.0 L454.2,868.2 L465.5,871.0 L476.7,882.4 L488.3,885.2 L499.8,892.5 L511.6,895.8" fill="none" stroke="#000" stroke-width="1.1" stroke-linejoin="round"/>
<path d="M304.5,817.6h6.8v6.8h-6.8zM314.1,901.7h6.8v6.8h-6.8zM323.6,943.8h6.8v6.8h-6.8zM333.3,950.8h6.8v6.8h-6.8zM343.2,954.3h6.8v6.8h-6.8zM353.1,957.4h6.8v6.8h-6.8zM363.2,960.4h6.8v6.8h-6.8zM373.3,964.1h6.8v6.8h-6.8zM383.6,967.1h6.8v6.8h-6.8zM393.9,970.1h6.8v6.8h-6.8zM404.4,973.1h6.8v6.8h-6.8zM415.0,976.2h6.8v6.8h-6.8zM425.7,979.3h6.8v6.8h-6.8zM436.5,982.5h6.8v6.8h-6.8zM447.5,985.6h6.8v6.8h-6.8zM458.5,988.8h6.8v6.8h-6.8zM469.7,992.1h6.8v6.8h-6.8zM481.0,995.4h6.8v6.8h-6.8zM492.5,998.7h6.8v6.8h-6.8zM504.0,1002.1h6.8v6.8h-6.8zM304.3,737.6a3.6,3.6 0 1,1 7.2,0a3.6,3.6 0 1,1 -7.2,0zM314.1,805.3a3.6,3.6 0 1,1 7.2,0a3.6,3.6 0 1,1 -7.2,0zM323.7,878.8a3.6,3.6 0 1,1 7.2,0a3.6,3.6 0 1,1 -7.2,0zM333.4,913.0a3.6,3.6 0 1,1 7.2,0a3.6,3.6 0 1,1 -7.2,0zM343.1,938.4a3.6,3.6 0 1,1 7.2,0a3.6,3.6 0 1,1 -7.2,0zM353.0,954.2a3.6,3.6 0 1,1 7.2,0a3.6,3.6 0 1,1 -7.2,0zM363.0,962.0a3.6,3.6 0 1,1 7.2,0a3.6,3.6 0 1,1 -7.2,0zM373.1,966.1a3.6,3.6 0 1,1 7.2,0a3.6,3.6 0 1,1 -7.2,0zM383.4,968.8a3.6,3.6 0 1,1 7.2,0a3.6,3.6 0 1,1 -7.2,0zM393.8,971.8a3.6,3.6 0 1,1 7.2,0a3.6,3.6 0 1,1 -7.2,0zM404.3,974.8a3.6,3.6 0 1,1 7.2,0a3.6,3.6 0 1,1 -7.2,0zM414.9,977.9a3.6,3.6 0 1,1 7.2,0a3.6,3.6 0 1,1 -7.2,0zM425.6,981.0a3.6,3.6 0 1,1 7.2,0a3.6,3.6 0 1,1 -7.2,0zM436.4,984.1a3.6,3.6 0 1,1 7.2,0a3.6,3.6 0 1,1 -7.2,0zM447.3,987.3a3.6,3.6 0 1,1 7.2,0a3.6,3.6 0 1,1 -7.2,0zM458.4,990.5a3.6,3.6 0 1,1 7.2,0a3.6,3.6 0 1,1 -7.2,0zM469.6,993.7a3.6,3.6 0 1,1 7.2,0a3.6,3.6 0 1,1 -7.2,0zM480.9,997.0a3.6,3.6 0 1,1 7.2,0a3.6,3.6 0 1,1 -7.2,0zM492.3,1000.3a3.6,3.6 0 1,1 7.2,0a3.6,3.6 0 1,1 -7.2,0zM503.9,1003.7a3.6,3.6 0 1,1 7.2,0a3.6,3.6 0 1,1 -7.2,0zM308.0,707.3L312.0,714.3L304.0,714.3zM317.8,759.0L321.8,766.0L313.8,766.0zM327.5,824.0L331.5,831.0L323.5,831.0zM337.3,860.8L341.3,867.8L333.3,867.8zM347.1,894.1L351.1,901.1L343.1,901.1zM356.9,922.1L360.9,929.1L352.9,929.1zM366.8,937.9L370.8,944.9L362.9,944.9zM376.9,952.8L380.9,959.8L372.9,959.8zM387.1,960.7L391.1,967.7L383.1,967.7zM397.4,966.5L401.4,973.5L393.4,973.5zM407.9,969.5L411.9,976.5L403.9,976.5zM418.5,972.6L422.5,979.6L414.5,979.6zM429.2,975.7L433.2,982.7L425.2,982.7zM440.0,978.8L444.0,985.8L436.0,985.8zM451.0,982.0L455.0,989.0L447.0,989.0zM462.0,985.2L466.0,992.2L458.1,992.2zM473.2,988.4L477.2,995.4L469.2,995.4zM484.5,991.7L488.5,998.7L480.6,998.7zM496.0,995.0L500.0,1002.0L492.0,1002.0zM507.6,998.3L511.5,1005.3L503.6,1005.3zM304.0,672.4L312.0,672.4L308.0,679.4zM314.0,698.7L322.0,698.7L318.0,705.7zM323.9,733.7L331.9,733.7L327.9,740.7zM333.9,757.4L341.9,757.4L337.9,764.4zM343.9,783.7L351.9,783.7L347.9,790.7zM354.0,811.7L361.9,811.7L358.0,818.7zM364.1,831.8L372.1,831.8L368.1,838.8zM374.2,856.0L382.2,856.0L378.2,863.0zM384.4,875.7L392.4,875.7L388.4,882.7zM394.6,900.9L402.5,900.9L398.6,907.9zM404.9,918.4L412.9,918.4L408.9,925.4zM415.3,934.8L423.3,934.8L419.3,941.8zM426.1,937.0L434.1,937.0L430.1,944.0zM436.7,952.3L444.7,952.3L440.7,959.3zM447.5,965.5L455.4,965.5L451.5,972.5zM458.6,968.3L466.6,968.3L462.6,975.3zM469.6,979.3L477.5,979.3L473.6,986.3zM480.9,981.9L488.9,981.9L484.9,988.9zM492.2,989.0L500.2,989.0L496.2,996.0zM503.8,992.8L511.8,992.8L507.8,999.8zM308.0,662.2L311.8,666.6L308.0,671.0L304.2,666.6zM318.0,680.6L321.8,685.0L318.0,689.4L314.2,685.0zM328.0,706.9L331.8,711.3L328.0,715.7L324.2,711.3zM338.1,724.4L341.9,728.8L338.1,733.2L334.3,728.8zM348.2,744.6L352.0,749.0L348.2,753.4L344.4,749.0zM358.4,766.5L362.2,770.9L358.4,775.3L354.6,770.9zM368.6,783.1L372.4,787.5L368.6,791.9L364.8,787.5zM378.9,804.1L382.7,808.5L378.9,812.9L375.1,808.5zM389.2,820.7L393.0,825.1L389.2,829.5L385.4,825.1zM399.5,843.9L403.3,848.3L399.5,852.7L395.7,848.3zM410.0,860.5L413.8,864.9L410.0,869.3L406.2,864.9zM420.5,877.1L424.3,881.5L420.5,885.9L416.7,881.5zM431.4,879.8L435.2,884.2L431.4,888.6L427.6,884.2zM442.1,896.2L445.9,900.6L442.1,905.0L438.3,900.6zM452.9,911.5L456.7,915.9L452.9,920.3L449.1,915.9zM464.1,914.3L467.9,918.7L464.1,923.1L460.3,918.7zM475.1,927.5L478.9,931.9L475.1,936.3L471.3,931.9zM486.6,930.1L490.4,934.5L486.6,938.9L482.8,934.5zM498.0,938.9L501.8,943.3L498.0,947.7L494.2,943.3zM509.7,942.2L513.5,946.6L509.7,951.0L505.9,946.6zM304.0,661.4L311.0,657.4L311.0,665.4zM314.0,677.2L321.1,673.2L321.1,681.2zM324.1,697.3L331.1,693.3L331.1,701.3zM334.2,711.3L341.3,707.3L341.3,715.3zM344.4,727.1L351.4,723.1L351.4,731.1zM354.6,745.5L361.7,741.5L361.7,749.5zM365.0,759.5L372.0,755.5L372.0,763.5zM375.3,776.1L382.3,772.1L382.3,780.1zM385.8,790.7L392.8,786.7L392.8,794.7zM396.2,810.5L403.2,806.5L403.2,814.5zM406.8,824.1L413.8,820.1L413.8,828.1zM417.4,838.2L424.5,834.2L424.5,842.2zM428.4,840.8L435.5,836.8L435.5,844.8zM439.3,855.0L446.3,851.0L446.3,859.0zM450.2,868.2L457.2,864.2L457.2,872.2zM461.5,871.0L468.6,867.0L468.6,875.0zM472.7,882.4L479.7,878.4L479.7,886.4zM484.3,885.2L491.3,881.2L491.3,889.2zM495.8,892.5L502.8,888.5L502.8,896.5zM507.6,895.8L514.7,891.8L514.7,899.8z" fill="#000"/>
<path d="M122.0,957.8 L133.6,1012.6 L143.8,1028.0 L153.9,1033.0 L164.0,1035.9 L174.3,1040.5 L184.6,1044.3 L195.1,1048.2 L205.7,1052.0 L216.5,1056.0 L227.4,1060.0 L238.4,1064.0 L249.5,1068.1 L260.8,1072.2 L272.2,1076.4 L283.8,1080.7 L295.5,1085.0 L307.4,1089.3 L319.4,1093.7 L331.6,1098.2 M119.2,875.7 L131.2,938.0 L143.7,1022.0 L153.8,1030.0 L163.9,1032.9 L174.2,1037.9 L184.6,1041.7 L195.1,1045.5 L205.7,1049.4 L216.4,1053.3 L227.3,1057.3 L238.3,1061.3 L249.5,1065.4 L260.8,1069.5 L272.2,1073.7 L283.8,1077.9 L295.5,1082.2 L307.4,1086.5 L319.4,1090.9 L331.6,1095.4 M118.1,843.2 L129.7,893.7 L143.5,1016.0 L153.6,1023.0 L163.2,1005.0 L173.9,1024.3 L184.4,1033.5 L195.0,1043.7 L205.7,1049.7 L216.4,1053.6 L227.3,1057.5 L238.3,1061.5 L249.5,1065.6 L260.8,1069.7 L272.2,1073.9 L283.8,1078.2 L295.5,1082.4 L307.4,1086.8 L319.4,1091.2 L331.6,1095.6 M117.1,812.5 L128.1,843.2 L143.4,1012.0 L153.5,1019.0 L158.9,845.0 L170.3,882.0 L181.5,906.2 L192.8,936.3 L204.0,958.6 L215.3,988.1 L226.6,1007.3 L237.9,1023.5 L249.1,1027.5 L260.5,1042.4 L272.1,1057.2 L283.7,1062.1 L295.5,1073.4 L307.4,1076.7 L319.4,1084.2 L331.6,1089.1 M116.9,806.2 L127.8,832.3 L143.2,1008.0 L153.4,1016.0 L156.7,761.8 L168.2,795.3 L179.5,817.9 L191.0,848.6 L202.3,872.1 L213.9,904.8 L225.4,927.0 L236.9,949.2 L248.3,952.7 L260.0,974.2 L271.7,994.4 L283.5,997.7 L295.4,1014.8 L307.4,1018.1 L319.6,1029.7 L331.9,1033.5 M116.7,802.6 L127.5,825.1 L143.1,1004.0 L153.3,1013.0 L155.2,706.5 L166.7,736.7 L178.1,757.7 L189.7,785.7 L201.1,807.9 L212.8,839.4 L224.4,860.4 L236.1,881.5 L247.6,885.0 L259.4,906.0 L271.3,925.9 L283.2,929.4 L295.3,945.7 L307.5,949.2 L319.8,959.7 L332.3,963.2" fill="none" stroke="#000" stroke-width="1.1" stroke-linejoin="round"/>
<path d="M118.4,954.2h7.2v7.2h-7.2zM130.0,1009.0h7.2v7.2h-7.2zM140.2,1024.4h7.2v7.2h-7.2zM150.3,1029.4h7.2v7.2h-7.2zM160.4,1032.3h7.2v7.2h-7.2zM170.7,1036.9h7.2v7.2h-7.2zM181.0,1040.7h7.2v7.2h-7.2zM191.5,1044.6h7.2v7.2h-7.2zM202.1,1048.4h7.2v7.2h-7.2zM212.9,1052.4h7.2v7.2h-7.2zM223.8,1056.4h7.2v7.2h-7.2zM234.8,1060.4h7.2v7.2h-7.2zM245.9,1064.5h7.2v7.2h-7.2zM257.2,1068.6h7.2v7.2h-7.2zM268.6,1072.8h7.2v7.2h-7.2zM280.2,1077.1h7.2v7.2h-7.2zM291.9,1081.4h7.2v7.2h-7.2zM303.8,1085.7h7.2v7.2h-7.2zM315.8,1090.1h7.2v7.2h-7.2zM328.0,1094.6h7.2v7.2h-7.2zM115.4,875.7a3.8,3.8 0 1,1 7.6,0a3.8,3.8 0 1,1 -7.6,0zM127.4,938.0a3.8,3.8 0 1,1 7.6,0a3.8,3.8 0 1,1 -7.6,0zM139.9,1022.0a3.8,3.8 0 1,1 7.6,0a3.8,3.8 0 1,1 -7.6,0zM150.0,1030.0a3.8,3.8 0 1,1 7.6,0a3.8,3.8 0 1,1 -7.6,0zM160.1,1032.9a3.8,3.8 0 1,1 7.6,0a3.8,3.8 0 1,1 -7.6,0zM170.4,1037.9a3.8,3.8 0 1,1 7.6,0a3.8,3.8 0 1,1 -7.6,0zM180.8,1041.7a3.8,3.8 0 1,1 7.6,0a3.8,3.8 0 1,1 -7.6,0zM191.3,1045.5a3.8,3.8 0 1,1 7.6,0a3.8,3.8 0 1,1 -7.6,0zM201.9,1049.4a3.8,3.8 0 1,1 7.6,0a3.8,3.8 0 1,1 -7.6,0zM212.6,1053.3a3.8,3.8 0 1,1 7.6,0a3.8,3.8 0 1,1 -7.6,0zM223.5,1057.3a3.8,3.8 0 1,1 7.6,0a3.8,3.8 0 1,1 -7.6,0zM234.5,1061.3a3.8,3.8 0 1,1 7.6,0a3.8,3.8 0 1,1 -7.6,0zM245.7,1065.4a3.8,3.8 0 1,1 7.6,0a3.8,3.8 0 1,1 -7.6,0zM257.0,1069.5a3.8,3.8 0 1,1 7.6,0a3.8,3.8 0 1,1 -7.6,0zM268.4,1073.7a3.8,3.8 0 1,1 7.6,0a3.8,3.8 0 1,1 -7.6,0zM280.0,1077.9a3.8,3.8 0 1,1 7.6,0a3.8,3.8 0 1,1 -7.6,0zM291.7,1082.2a3.8,3.8 0 1,1 7.6,0a3.8,3.8 0 1,1 -7.6,0zM303.6,1086.5a3.8,3.8 0 1,1 7.6,0a3.8,3.8 0 1,1 -7.6,0zM315.6,1090.9a3.8,3.8 0 1,1 7.6,0a3.8,3.8 0 1,1 -7.6,0zM327.8,1095.4a3.8,3.8 0 1,1 7.6,0a3.8,3.8 0 1,1 -7.6,0zM118.1,839.0L122.3,846.4L113.9,846.4zM129.7,889.5L133.9,896.9L125.5,896.9zM143.5,1011.8L147.7,1019.2L139.3,1019.2zM153.6,1018.8L157.8,1026.2L149.4,1026.2zM163.2,1000.8L167.4,1008.2L159.0,1008.2zM173.9,1020.1L178.1,1027.5L169.7,1027.5zM184.4,1029.3L188.6,1036.7L180.2,1036.7zM195.0,1039.5L199.2,1046.9L190.8,1046.9zM205.7,1045.5L209.9,1052.9L201.5,1052.9zM216.4,1049.4L220.6,1056.8L212.2,1056.8zM227.3,1053.3L231.5,1060.7L223.1,1060.7zM238.3,1057.3L242.5,1064.7L234.1,1064.7zM249.5,1061.4L253.7,1068.8L245.3,1068.8zM260.8,1065.5L265.0,1072.9L256.6,1072.9zM272.2,1069.7L276.4,1077.1L268.0,1077.1zM283.8,1074.0L288.0,1081.4L279.6,1081.4zM295.5,1078.2L299.7,1085.6L291.3,1085.6zM307.4,1082.6L311.6,1090.0L303.2,1090.0zM319.4,1087.0L323.6,1094.4L315.2,1094.4zM331.6,1091.4L335.8,1098.8L327.4,1098.8zM112.9,809.3L121.3,809.3L117.1,816.7zM123.9,840.0L132.3,840.0L128.1,847.4zM139.2,1008.8L147.6,1008.8L143.4,1016.2zM149.3,1015.8L157.7,1015.8L153.5,1023.2zM154.7,841.8L163.1,841.8L158.9,849.2zM166.1,878.8L174.5,878.8L170.3,886.2zM177.3,903.0L185.7,903.0L181.5,910.4zM188.6,933.1L197.0,933.1L192.8,940.5zM199.8,955.4L208.2,955.4L204.0,962.8zM211.1,984.9L219.5,984.9L215.3,992.3zM222.4,1004.1L230.8,1004.1L226.6,1011.5zM233.7,1020.3L242.1,1020.3L237.9,1027.7zM244.9,1024.3L253.3,1024.3L249.1,1031.7zM256.3,1039.2L264.7,1039.2L260.5,1046.6zM267.9,1054.0L276.3,1054.0L272.1,1061.4zM279.5,1058.9L287.9,1058.9L283.7,1066.3zM291.3,1070.2L299.7,1070.2L295.5,1077.6zM303.2,1073.5L311.6,1073.5L307.4,1080.9zM315.2,1081.0L323.6,1081.0L319.4,1088.4zM327.4,1085.9L335.8,1085.9L331.6,1093.3zM116.9,801.6L120.9,806.2L116.9,810.8L112.9,806.2zM127.8,827.7L131.8,832.3L127.8,836.9L123.8,832.3zM143.2,1003.4L147.2,1008.0L143.2,1012.6L139.2,1008.0zM153.4,1011.4L157.4,1016.0L153.4,1020.6L149.4,1016.0zM156.7,757.2L160.7,761.8L156.7,766.4L152.7,761.8zM168.2,790.7L172.2,795.3L168.2,799.9L164.2,795.3zM179.5,813.3L183.5,817.9L179.5,822.5L175.5,817.9zM191.0,844.0L195.0,848.6L191.0,853.2L187.0,848.6zM202.3,867.5L206.3,872.1L202.3,876.7L198.3,872.1zM213.9,900.2L217.9,904.8L213.9,909.4L209.9,904.8zM225.4,922.4L229.4,927.0L225.4,931.6L221.4,927.0zM236.9,944.6L240.9,949.2L236.9,953.8L232.9,949.2zM248.3,948.1L252.3,952.7L248.3,957.3L244.3,952.7zM260.0,969.6L264.0,974.2L260.0,978.8L256.0,974.2zM271.7,989.8L275.7,994.4L271.7,999.0L267.7,994.4zM283.5,993.1L287.5,997.7L283.5,1002.3L279.5,997.7zM295.4,1010.2L299.4,1014.8L295.4,1019.4L291.4,1014.8zM307.4,1013.5L311.4,1018.1L307.4,1022.7L303.4,1018.1zM319.6,1025.1L323.6,1029.7L319.6,1034.3L315.6,1029.7zM331.9,1028.9L335.9,1033.5L331.9,1038.1L327.9,1033.5zM112.5,802.6L119.9,798.4L119.9,806.8zM123.3,825.1L130.7,820.9L130.7,829.3zM138.9,1004.0L146.3,999.8L146.3,1008.2zM149.1,1013.0L156.5,1008.8L156.5,1017.2zM151.0,706.5L158.4,702.3L158.4,710.7zM162.5,736.7L169.9,732.5L169.9,740.9zM173.9,757.7L181.3,753.5L181.3,761.9zM185.5,785.7L192.9,781.5L192.9,789.9zM196.9,807.9L204.3,803.7L204.3,812.1zM208.6,839.4L216.0,835.2L216.0,843.6zM220.2,860.4L227.6,856.2L227.6,864.6zM231.9,881.5L239.3,877.3L239.3,885.7zM243.4,885.0L250.8,880.8L250.8,889.2zM255.2,906.0L262.6,901.8L262.6,910.2zM267.1,925.9L274.5,921.7L274.5,930.1zM279.0,929.4L286.4,925.2L286.4,933.6zM291.1,945.7L298.5,941.5L298.5,949.9zM303.3,949.2L310.7,945.0L310.7,953.4zM315.6,959.7L323.0,955.5L323.0,963.9zM328.1,963.2L335.5,959.0L335.5,967.4z" fill="#000"/>
<line x1="277.6" y1="318.3" x2="313.3" y2="318.3" stroke="#000" stroke-width="1.1" />
<path d="M291.6,314.2h8.1v8.1h-8.1z" fill="#000"/>
<text transform="translate(317.6,323.9) scale(1,1.08)" font-size="15.5" text-anchor="start" >Time point 1</text>
<line x1="277.6" y1="338.1" x2="313.3" y2="338.1" stroke="#000" stroke-width="1.1" />
<path d="M291.3,338.1a4.3,4.3 0 1,1 8.5,0a4.3,4.3 0 1,1 -8.5,0z" fill="#000"/>
<text transform="translate(317.6,343.7) scale(1,1.08)" font-size="15.5" text-anchor="start" >Time point 2</text>
<line x1="277.6" y1="357.9" x2="313.3" y2="357.9" stroke="#000" stroke-width="1.1" />
<path d="M295.6,353.2L300.3,361.5L290.9,361.5z" fill="#000"/>
<text transform="translate(317.6,363.5) scale(1,1.08)" font-size="15.5" text-anchor="start" >Time point 3</text>
<line x1="277.6" y1="377.7" x2="313.3" y2="377.7" stroke="#000" stroke-width="1.1" />
<path d="M290.9,374.1L300.3,374.1L295.6,382.4z" fill="#000"/>
<text transform="translate(317.6,383.3) scale(1,1.08)" font-size="15.5" text-anchor="start" >Time point 4</text>
<line x1="277.6" y1="397.5" x2="313.3" y2="397.5" stroke="#000" stroke-width="1.1" />
<path d="M295.6,392.3L300.1,397.5L295.6,402.7L291.1,397.5z" fill="#000"/>
<text transform="translate(317.6,403.1) scale(1,1.08)" font-size="15.5" text-anchor="start" >Time point 5</text>
<line x1="277.6" y1="417.3" x2="313.3" y2="417.3" stroke="#000" stroke-width="1.1" />
<path d="M290.9,417.3L299.2,412.6L299.2,422.0z" fill="#000"/>
<text transform="translate(317.6,422.9) scale(1,1.08)" font-size="15.5" text-anchor="start" >Time point 6</text>
<line x1="277.6" y1="437.1" x2="313.3" y2="437.1" stroke="#000" stroke-width="1.1" />
<path d="M292.0,432.4L300.3,437.1L292.0,441.8z" fill="#000"/>
<text transform="translate(317.6,442.7) scale(1,1.08)" font-size="15.5" text-anchor="start" >Time point 7</text>
<line x1="277.6" y1="456.9" x2="313.3" y2="456.9" stroke="#000" stroke-width="1.1" />
<path d="M291.1,456.9a4.5,4.5 0 1,1 9.0,0a4.5,4.5 0 1,1 -9.0,0z" fill="#000"/>
<text transform="translate(317.6,462.5) scale(1,1.08)" font-size="15.5" text-anchor="start" >Time point 8</text>
<line x1="434.7" y1="688.7" x2="469.3" y2="688.7" stroke="#000" stroke-width="1.1" />
<path d="M449.1,685.6h6.3v6.3h-6.3z" fill="#000"/>
<text transform="translate(472.9,694.3) scale(1,1.08)" font-size="14.9" text-anchor="start" >Time point 1</text>
<line x1="434.7" y1="707.9" x2="469.3" y2="707.9" stroke="#000" stroke-width="1.1" />
<path d="M448.9,707.9a3.3,3.3 0 1,1 6.6,0a3.3,3.3 0 1,1 -6.6,0z" fill="#000"/>
<text transform="translate(472.9,713.5) scale(1,1.08)" font-size="14.9" text-anchor="start" >Time point 2</text>
<line x1="434.7" y1="727.1" x2="469.3" y2="727.1" stroke="#000" stroke-width="1.1" />
<path d="M452.2,723.4L455.9,729.9L448.5,729.9z" fill="#000"/>
<text transform="translate(472.9,732.7) scale(1,1.08)" font-size="14.9" text-anchor="start" >Time point 3</text>
<line x1="434.7" y1="746.3" x2="469.3" y2="746.3" stroke="#000" stroke-width="1.1" />
<path d="M448.5,743.5L455.9,743.5L452.2,750.0z" fill="#000"/>
<text transform="translate(472.9,751.9) scale(1,1.08)" font-size="14.9" text-anchor="start" >Time point 4</text>
<line x1="434.7" y1="765.5" x2="469.3" y2="765.5" stroke="#000" stroke-width="1.1" />
<path d="M452.2,761.5L455.7,765.5L452.2,769.5L448.7,765.5z" fill="#000"/>
<text transform="translate(472.9,771.1) scale(1,1.08)" font-size="14.9" text-anchor="start" >Time point 5</text>
<line x1="434.7" y1="784.7" x2="469.3" y2="784.7" stroke="#000" stroke-width="1.1" />
<path d="M448.5,784.7L455.0,781.0L455.0,788.4z" fill="#000"/>
<text transform="translate(472.9,790.3) scale(1,1.08)" font-size="14.9" text-anchor="start" >Time point 6</text>
<path d="M132.4,1030.1 L124.6,683 L156.6,694.5 L165,1044.7 Z" fill="none" stroke="#f00" stroke-width="2.6" stroke-dasharray="7,4"/>
</svg></body></html>
